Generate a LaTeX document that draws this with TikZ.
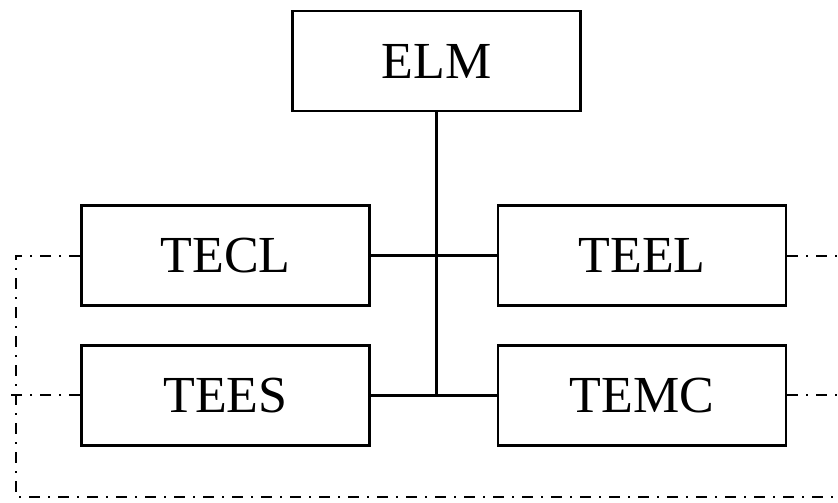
\documentclass[tikz,border=0pt]{standalone}
\usepackage{fontspec}
\setmainfont{Liberation Serif}
\usetikzlibrary{positioning}
\tikzset{
    %dash-dot connector
    dashdotline/.style={line width=1pt,
      dash pattern=on 5.5pt off 4pt on 1pt off 4pt},
}

\begin{document}
\begin{tikzpicture}[
  x=0.5pt, y=-0.5pt,
  every node/.style = {shape=rectangle, align=center,
                       font=\fontsize{26}{31}\selectfont},
  unit/.style = {draw, line width=1.3pt, minimum width=144pt,
                 minimum height=50pt, inner sep=0pt},
  link/.style = {line width=1.3pt} ]
  \useasboundingbox (0,0) rectangle (838,502);
  \node [unit] (elm) at (436.5,61) {ELM};
  \node [unit, below=46pt of elm, xshift=-105.5pt] (tecl) {TECL};
  \node [unit, right=63pt of tecl] (teel) {TEEL};
  \node [unit, below=18.5pt of tecl] (tees) {TEES};
  \node [unit, right=63pt of tees] (temc) {TEMC};
  % bus
  \coordinate (busend) at (elm.south |- tees.east);
  \draw [link] (elm.south) -- (busend);
  \draw [link] (tecl.east) -- (teel.west);
  \draw [link] (tees.east) -- (temc.west);
  % dash-dot links
  \coordinate (cornertop) at (16,0 |- tecl.west);
  \coordinate (cornerbot) at (16,497);
  \coordinate (bottomend) at (838,497);
  \coordinate (teesend) at (11,0 |- tees.west);
  \coordinate (teelend) at (838,0 |- teel.east);
  \coordinate (temcend) at (838,0 |- temc.east);
  \draw [dashdotline] (tecl.west) -- (cornertop) -- (cornerbot) -- (bottomend);
  \draw [dashdotline] (tees.west) -- (teesend);
  \draw [dashdotline] (teel.east) -- (teelend);
  \draw [dashdotline] (temc.east) -- (temcend);
\end{tikzpicture}
\end{document}
